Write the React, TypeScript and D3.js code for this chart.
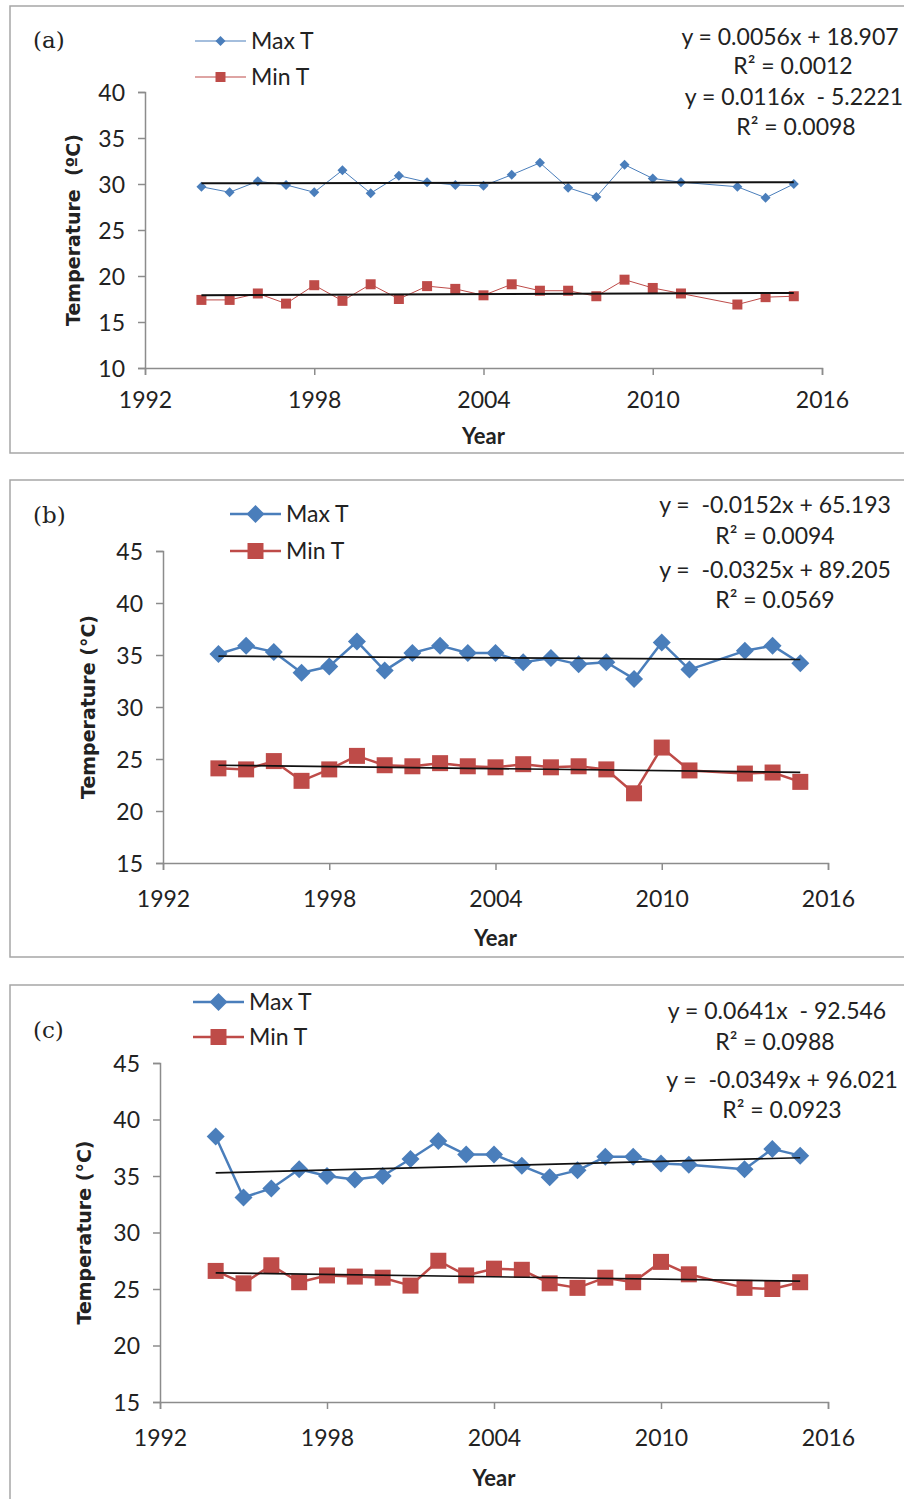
import * as d3 from "d3";
import { useEffect, useRef } from "react";

// Years observed (2012 missing)
const years = [1994, 1995, 1996, 1997, 1998, 1999, 2000, 2001, 2002, 2003, 2004, 2005, 2006, 2007, 2008, 2009, 2010, 2011, 2013, 2014, 2015];

// (a)
const maxA = [29.7, 29.1, 30.3, 29.9, 29.1, 31.5, 29.0, 30.9, 30.2, 29.9, 29.8, 31.0, 32.3, 29.6, 28.6, 32.1, 30.6, 30.2, 29.7, 28.5, 30.0];
const minA = [17.4, 17.4, 18.1, 17.0, 19.0, 17.3, 19.1, 17.5, 18.9, 18.6, 17.9, 19.1, 18.4, 18.4, 17.8, 19.6, 18.7, 18.1, 16.9, 17.7, 17.8];
// (b)
const maxB = [35.1, 35.9, 35.3, 33.3, 33.9, 36.3, 33.5, 35.2, 35.9, 35.2, 35.2, 34.3, 34.7, 34.1, 34.3, 32.7, 36.2, 33.6, 35.4, 35.9, 34.2];
const minB = [24.1, 24.0, 24.8, 22.9, 24.0, 25.3, 24.4, 24.3, 24.6, 24.3, 24.2, 24.5, 24.2, 24.3, 24.0, 21.7, 26.1, 23.9, 23.6, 23.7, 22.8];
// (c)
const maxC = [38.5, 33.1, 33.9, 35.6, 35.0, 34.7, 35.0, 36.5, 38.1, 36.9, 36.9, 35.9, 34.9, 35.5, 36.7, 36.7, 36.1, 36.0, 35.6, 37.4, 36.8];
const minC = [26.6, 25.5, 27.1, 25.6, 26.2, 26.1, 26.0, 25.3, 27.5, 26.2, 26.8, 26.7, 25.5, 25.1, 26.0, 25.6, 27.4, 26.3, 25.1, 25.0, 25.6];

// trend coefficients [slope, intercept]
const trendMaxA = [0.0056, 18.907];
const trendMinA = [0.0116, -5.2221];
const trendMaxB = [-0.0152, 65.193];
const trendMinB = [-0.0325, 89.205];
const trendMaxC = [0.0641, -92.546];
const trendMinC = [-0.0349, 96.021];

const eqA = ["y = 0.0056x + 18.907", "R² = 0.0012", "y = 0.0116x  - 5.2221", "R² = 0.0098"];
const eqB = ["y =  -0.0152x + 65.193", "R² = 0.0094", "y =  -0.0325x + 89.205", "R² = 0.0569"];
const eqC = ["y = 0.0641x  - 92.546", "R² = 0.0988", "y =  -0.0349x + 96.021", "R² = 0.0923"];

const xTicks = [1992, 1998, 2004, 2010, 2016];
const yTicksA = [10, 15, 20, 25, 30, 35, 40];
const yTicksBC = [15, 20, 25, 30, 35, 40, 45];

const seriesNames = ["Max T", "Min T"];

const BLUE = "#4a7ebb";
const RED = "#be4b48";
const SANS = "Lato, 'Open Sans', sans-serif";

export default function App() {
  const svgRef = useRef<SVGSVGElement>(null);

  useEffect(() => {
    if (!svgRef.current) return;
    const svg = d3.select(svgRef.current);
    svg.selectAll("*").remove();

    svg.append("rect").attr("width", 904).attr("height", 1499).attr("fill", "#fff");

    const panels = [
      {
        label: "(a)", box: [6, 453], x: [145, 822], y: [368, 92], dom: [10, 40], yTicks: yTicksA,
        max: maxA, min: minA, tMax: trendMaxA, tMin: trendMinA, eq: eqA,
        eqX: [790, 793, 794, 796], eqY: [37, 66, 97, 127],
        legX: 195, legY: [41, 77], labY: 40, thin: true, pad: 12,
        title: "Temperature  (ºC)", titleX: 73, yearY: 436,
      },
      {
        label: "(b)", box: [480, 957], x: [163, 828], y: [863, 551], dom: [15, 45], yTicks: yTicksBC,
        max: maxB, min: minB, tMax: trendMaxB, tMin: trendMinB, eq: eqB,
        eqX: [775, 775, 775, 775], eqY: [505, 536, 570, 600],
        legX: 230, legY: [514, 551], labY: 515, thin: false, pad: 16,
        title: "Temperature (°C)", titleX: 88, yearY: 938,
      },
      {
        label: "(c)", box: [985, 1540], x: [160, 828], y: [1402, 1063], dom: [15, 45], yTicks: yTicksBC,
        max: maxC, min: minC, tMax: trendMaxC, tMin: trendMinC, eq: eqC,
        eqX: [777, 775, 782, 782], eqY: [1011, 1042, 1080, 1110],
        legX: 193, legY: [1002, 1037], labY: 1030, thin: false, pad: 16,
        title: "Temperature (°C)", titleX: 84, yearY: 1478,
      },
    ];

    const diamond = (h: number) => `M0,${-h}L${h},0L0,${h}L${-h},0Z`;
    const square = (h: number) => `M${-h},${-h}H${h}V${h}H${-h}Z`;

    panels.forEach((p) => {
      const g = svg.append("g");
      // frame
      g.append("rect")
        .attr("x", 10).attr("y", p.box[0])
        .attr("width", 910).attr("height", p.box[1] - p.box[0])
        .attr("fill", "none").attr("stroke", "#a6a6a6").attr("stroke-width", 1.5);

      const x = d3.scaleLinear().domain([1992, 2016]).range(p.x);
      const y = d3.scaleLinear().domain(p.dom).range(p.y);

      // axes
      const xAxis = d3.axisBottom(x).tickValues(xTicks).tickSize(7).tickPadding(p.pad).tickFormat(d3.format("d"));
      const yAxis = d3.axisLeft(y).tickValues(p.yTicks).tickSize(7).tickPadding(13);
      const ax = g.append("g").attr("transform", `translate(0,${p.y[0]})`).call(xAxis);
      const ay = g.append("g").attr("transform", `translate(${p.x[0]},0)`).call(yAxis);
      [ax, ay].forEach((a) => {
        a.select(".domain").attr("stroke", "#8c8c8c").attr("stroke-width", 1.5);
        a.selectAll(".tick line").attr("stroke", "#8c8c8c").attr("stroke-width", 1.5);
        a.selectAll(".tick text").attr("fill", "#222").attr("font-size", 23).attr("font-family", SANS);
      });
      ax.selectAll(".tick text").attr("dy", "0.9em");
      ay.selectAll(".tick text").attr("dy", "0.36em");

      const lw = p.thin ? 1 : 2.5;
      const dh = p.thin ? 5 : 9;
      const sh = p.thin ? 5 : 8;

      const line = d3.line<number>().x((_, i) => x(years[i])).y((d) => y(d));
      const series = [
        { vals: p.max, color: BLUE, shape: diamond(dh) },
        { vals: p.min, color: RED, shape: square(sh) },
      ];
      series.forEach((s) => {
        g.append("path").attr("d", line(s.vals)).attr("fill", "none")
          .attr("stroke", s.color).attr("stroke-width", lw).attr("stroke-linejoin", "round");
        g.selectAll(null).data(s.vals).enter().append("path")
          .attr("transform", (d, i) => `translate(${x(years[i])},${y(d)})`)
          .attr("d", s.shape).attr("fill", s.color);
      });

      // trend lines
      const x0 = years[0];
      const x1 = years[years.length - 1];
      [p.tMax, p.tMin].forEach((t) => {
        g.append("line")
          .attr("x1", x(x0)).attr("y1", y(t[0] * x0 + t[1]))
          .attr("x2", x(x1)).attr("y2", y(t[0] * x1 + t[1]))
          .attr("stroke", "#111").attr("stroke-width", p.thin ? 2 : 1.7);
      });

      // legend
      series.forEach((s, i) => {
        const ly = p.legY[i];
        g.append("line").attr("x1", p.legX).attr("x2", p.legX + 51).attr("y1", ly).attr("y2", ly)
          .attr("stroke", s.color).attr("stroke-width", p.thin ? 1.2 : 2.5);
        g.append("path").attr("transform", `translate(${p.legX + 25.5},${ly})`).attr("d", s.shape).attr("fill", s.color);
        g.append("text").attr("x", p.legX + 56).attr("y", ly).attr("dy", "0.36em")
          .attr("font-family", SANS).attr("font-size", 23).attr("fill", "#222").text(seriesNames[i]);
      });

      // panel label
      g.append("text").attr("x", 33).attr("y", p.labY).attr("dy", "0.35em")
        .attr("font-family", "'DejaVu Serif', serif").attr("font-size", 23).attr("fill", "#222").text(p.label);

      // equations
      p.eq.forEach((t, i) => {
        g.append("text").attr("x", p.eqX[i]).attr("y", p.eqY[i]).attr("dy", "0.36em")
          .attr("text-anchor", "middle").style("white-space", "pre")
          .attr("font-family", SANS).attr("font-size", 23).attr("fill", "#222").text(t);
      });

      // axis titles
      const cy = (p.y[0] + p.y[1]) / 2;
      g.append("text").attr("transform", `translate(${p.titleX},${cy}) rotate(-90)`)
        .attr("text-anchor", "middle").attr("dy", "0.36em").style("white-space", "pre")
        .attr("font-family", "'DejaVu Sans', sans-serif").attr("font-weight", "bold")
        .attr("font-size", 19).attr("fill", "#222").text(p.title);
      g.append("text").attr("x", (p.x[0] + p.x[1]) / 2).attr("y", p.yearY).attr("dy", "0.36em")
        .attr("text-anchor", "middle").attr("font-family", SANS).attr("font-weight", "bold")
        .attr("font-size", 22).attr("fill", "#222").text("Year");
    });
  }, []);

  return (
    <svg
      ref={svgRef}
      width={904}
      height={1499}
      style={{ position: "absolute", left: 0, top: 0, display: "block" }}
    ></svg>
  );
}
